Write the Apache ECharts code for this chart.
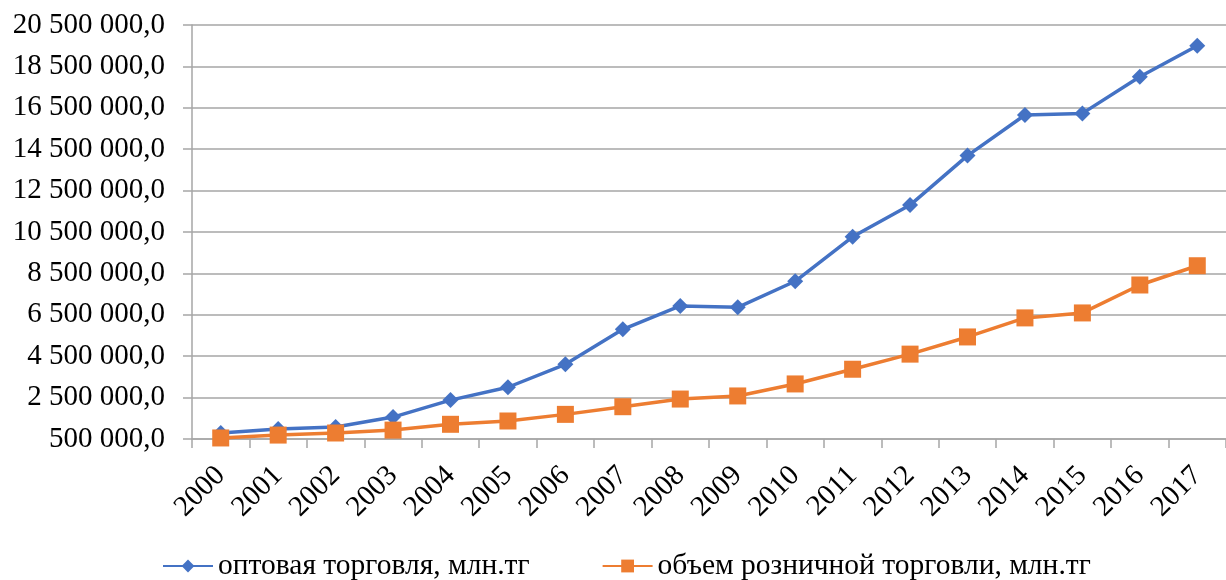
<!DOCTYPE html>
<html>
<head>
<meta charset="utf-8">
<script src="https://cdn.jsdelivr.net/npm/echarts@6/dist/echarts.min.js"></script>
<style>
  html, body { margin: 0; padding: 0; background: #fff; }
  #chart { width: 1226px; height: 580px; }
</style>
</head>
<body>
<div id="chart"></div>
<script>
// Years on the category axis
const years = ['2000', '2001', '2002', '2003', '2004', '2005', '2006', '2007', '2008',
  '2009', '2010', '2011', '2012', '2013', '2014', '2015', '2016', '2017'];

// Wholesale trade, mln tenge
const wholesale = [790000, 980000, 1080000, 1560000, 2380000, 3000000, 4110000, 5800000, 6930000,
  6860000, 8120000, 10270000, 11800000, 14190000, 16150000, 16230000, 18000000, 19500000];

// Retail trade volume, mln tenge
const retail = [550000, 690000, 790000, 930000, 1210000, 1370000, 1690000, 2060000, 2430000,
  2580000, 3160000, 3870000, 4600000, 5430000, 6350000, 6590000, 7940000, 8870000];

const seriesNames = ['оптовая торговля, млн.тг', 'объем розничной торговли, млн.тг'];

// Value axis range
const yMin = 500000;
const yMax = 20500000;
const yStep = 2000000;

const FONT = '"Liberation Serif", "Times New Roman", serif';

function fmt(v) {
  const s = Math.round(v).toString().replace(/\B(?=(\d{3})+(?!\d))/g, ' ');
  return s + ',0';
}

const chart = echarts.init(document.getElementById('chart'), null, { renderer: 'canvas' });

chart.setOption({
  animation: false,
  backgroundColor: '#ffffff',
  textStyle: { fontFamily: FONT },
  grid: { left: 192, right: -8, top: 25, bottom: 141, containLabel: false },
  legend: {
    data: seriesNames,
    left: 162,
    top: 550,
    padding: 0,
    itemWidth: 50,
    itemHeight: 16,
    itemGap: 72,
    textStyle: { fontFamily: FONT, fontSize: 29.5, color: '#000', lineHeight: 32 }
  },
  xAxis: {
    type: 'category',
    data: years,
    boundaryGap: true,
    axisLine: { lineStyle: { color: '#a6a6a6', width: 1.5 } },
    axisTick: { show: true, length: 9, lineStyle: { color: '#a6a6a6', width: 1.5 } },
    axisLabel: {
      rotate: 45,
      margin: 32,
      interval: 0,
      fontFamily: FONT,
      fontSize: 29,
      color: '#000'
    },
    splitLine: { show: false }
  },
  yAxis: {
    type: 'value',
    min: yMin,
    max: yMax,
    interval: yStep,
    axisLine: { show: true, lineStyle: { color: '#a6a6a6', width: 1.5 } },
    axisTick: { show: true, length: 9, lineStyle: { color: '#a6a6a6', width: 1.5 } },
    axisLabel: {
      margin: 27,
      fontFamily: FONT,
      fontSize: 29,
      color: '#000',
      formatter: fmt
    },
    splitLine: { show: true, lineStyle: { color: '#a6a6a6', width: 1.5 } }
  },
  series: [
    {
      name: seriesNames[0],
      type: 'line',
      data: wholesale,
      symbol: 'diamond',
      symbolSize: 16,
      lineStyle: { color: '#4472c4', width: 3.5 },
      itemStyle: { color: '#4472c4' },
      z: 3
    },
    {
      name: seriesNames[1],
      type: 'line',
      data: retail,
      symbol: 'rect',
      symbolSize: 17,
      lineStyle: { color: '#ed7d31', width: 3.5 },
      itemStyle: { color: '#ed7d31' },
      z: 4
    }
  ]
});
</script>
</body>
</html>
